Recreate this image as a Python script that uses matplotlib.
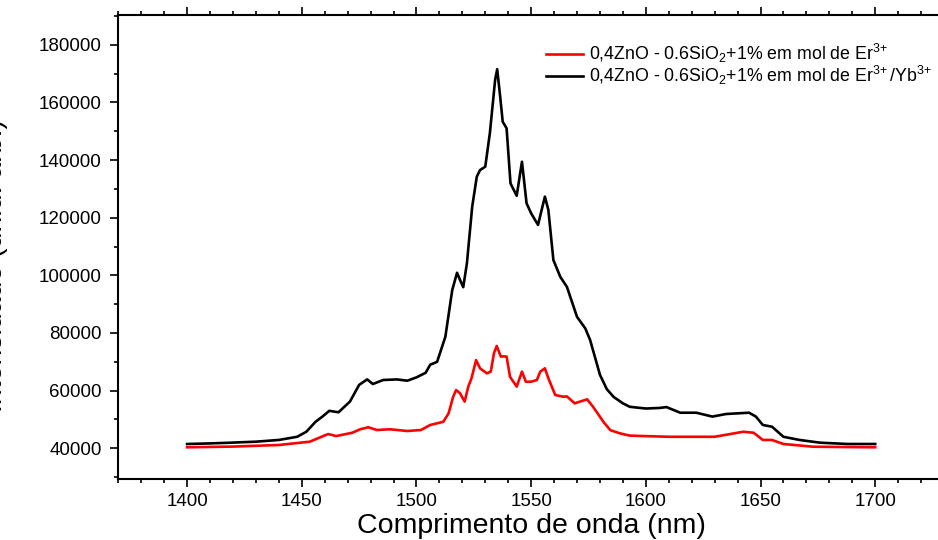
import matplotlib
matplotlib.use("Agg")
import matplotlib.pyplot as plt
from matplotlib.ticker import MultipleLocator

plt.rcParams["font.family"] = ["Liberation Sans", "DejaVu Sans"]
plt.rcParams["mathtext.fontset"] = "custom"
plt.rcParams["mathtext.rm"] = "Liberation Sans"
plt.rcParams["mathtext.it"] = "Liberation Sans:italic"
plt.rcParams["mathtext.bf"] = "Liberation Sans:bold"

# Emission spectrum, Er3+/Yb3+ co-doped sample (wavelength in nm, intensity)
wl_eryb = [1400, 1410, 1419, 1430, 1440, 1448, 1452, 1456, 1459, 1462, 1466,
           1471, 1475, 1478.5, 1481, 1485.5, 1491.5, 1496, 1500, 1504, 1506,
           1509, 1512.6, 1515.6, 1517.7, 1519, 1520.4, 1522, 1524.3, 1526.3,
           1527.7, 1530, 1532, 1534.3, 1535.2, 1536.5, 1537.6, 1539.3, 1541,
           1543.7, 1546, 1548, 1550, 1553, 1556, 1557.5, 1559.7, 1562.7,
           1565.6, 1570, 1573.6, 1575.7, 1580, 1583, 1586, 1590, 1593, 1600,
           1606, 1609, 1615, 1622, 1629, 1635, 1645, 1648, 1651, 1655, 1660,
           1667, 1676, 1688, 1700]
int_eryb = [41500, 41700, 41950, 42300, 42900, 44000, 45750, 49200, 51000,
            53000, 52500, 56200, 62000, 63900, 62300, 63700, 63900, 63450,
            64600, 66200, 69000, 70000, 78700, 94900, 100900, 98400, 95900,
            104200, 123800, 134200, 136500, 137700, 149300, 167800, 171500,
            162000, 153300, 151000, 131900, 127600, 139400, 125000, 121500,
            117500, 127300, 122700, 105300, 99500, 96000, 85600, 81600, 77600,
            65500, 60500, 57800, 55600, 54400, 53800, 54000, 54300, 52350,
            52350, 51000, 51900, 52350, 51000, 48100, 47500, 44000, 42900,
            41950, 41500, 41500]

# Emission spectrum, Er3+ doped sample
wl_er = [1400, 1420, 1440, 1453.5, 1458, 1461.5, 1465, 1472, 1475.5, 1479,
         1482.7, 1488.5, 1496, 1502, 1506, 1511.7, 1514, 1516, 1517.3, 1519,
         1521, 1522.6, 1524, 1526, 1527.7, 1530.7, 1532.4, 1533.8, 1535,
         1536.8, 1537.8, 1539.3, 1540.8, 1543.7, 1546, 1547.7, 1550, 1552.5,
         1554, 1556, 1557.5, 1560.5, 1564, 1565.6, 1569, 1574.4, 1577, 1581.5,
         1584.5, 1588.7, 1593, 1610, 1630, 1642.5, 1647, 1651, 1655, 1660,
         1673, 1700]
int_er = [40350, 40600, 41150, 42300, 43800, 44950, 44250, 45400, 46600,
          47300, 46350, 46600, 46000, 46350, 48100, 49200, 52100, 57900,
          60200, 59100, 56200, 61400, 64300, 70600, 67750, 66000, 66600,
          73000, 75500, 71800, 71900, 71800, 64800, 61400, 66600, 63100,
          63100, 63700, 66600, 67750, 64300, 58500, 57900, 58000, 55600,
          57000, 54400, 49200, 46300, 45200, 44400, 44000, 44000, 45750,
          45400, 42900, 42900, 41500, 40550, 40350]

labels = [r"0,4ZnO - 0.6SiO$_2$+1% em mol de Er$^{3\!+}$",
          r"0,4ZnO - 0.6SiO$_2$+1% em mol de Er$^{3\!+}$/Yb$^{3\!+}$"]
x_ticks = [1400, 1450, 1500, 1550, 1600, 1650, 1700]
y_ticks = [40000, 60000, 80000, 100000, 120000, 140000, 160000, 180000]

fig = plt.figure(figsize=(9.38, 5.40), dpi=100)
ax = fig.add_axes([0.1261, 0.1124, 0.8803, 0.8598])

ax.plot(wl_er, int_er, color="#ff0000", lw=1.9, label=labels[0])
ax.plot(wl_eryb, int_eryb, color="#000000", lw=1.9, label=labels[1])

ax.set_xlim(1370, 1730)
ax.set_ylim(29250, 190300)
ax.set_xticks(x_ticks)
ax.set_yticks(y_ticks)
ax.xaxis.set_minor_locator(MultipleLocator(10))
ax.yaxis.set_minor_locator(MultipleLocator(10000))

for side in ["left", "bottom", "top", "right"]:
    ax.spines[side].set_linewidth(1.5)
ax.tick_params(which="both", direction="out", top=True, right=False,
               width=1.2, labelsize=13.5)
ax.tick_params(which="major", length=6)
ax.tick_params(which="minor", length=3)
ax.tick_params(axis="x", pad=4)
ax.tick_params(axis="y", pad=6)

ax.set_xlabel("Comprimento de onda (nm)", fontsize=20.5, labelpad=2)
fig.text(8 / 938, 1 - 266 / 540, "Intensidade (unid. arb.)", rotation=90,
         ha="right", va="center", fontsize=20.5)

leg = ax.legend(loc="upper left", bbox_to_anchor=(546 / 938, 1 - 42 / 540),
                bbox_transform=fig.transFigure, frameon=False, fontsize=12.8,
                handlelength=2.1, handletextpad=0.3, borderpad=0,
                borderaxespad=0, labelspacing=-0.05)

fig.savefig("out.png", dpi=100)
